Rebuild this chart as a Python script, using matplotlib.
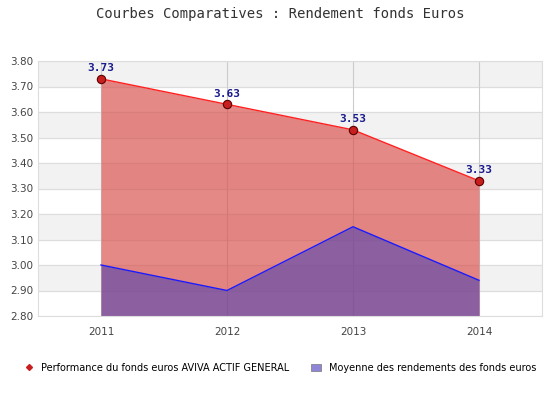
import matplotlib
matplotlib.use("Agg")
import matplotlib.pyplot as plt
from matplotlib.lines import Line2D
from matplotlib.patches import Patch

years = [2011, 2012, 2013, 2014]
fonds_aviva = [3.73, 3.63, 3.53, 3.33]
moyenne = [3.00, 2.90, 3.15, 2.94]
y_ticks = [2.80, 2.90, 3.00, 3.10, 3.20, 3.30, 3.40, 3.50, 3.60, 3.70, 3.80]


def main():
    fig = plt.figure(figsize=(5.6, 4.2), dpi=100)
    ax = fig.add_axes([38 / 560, 1 - 316 / 420, 504 / 560, 255 / 420])

    ax.set_xlim(2010.5, 2014.5)
    ax.set_ylim(2.80, 3.80)

    # bandes grises alternées
    for i in range(len(y_ticks) - 1):
        if (len(y_ticks) - 2 - i) % 2 == 0:
            ax.axhspan(y_ticks[i], y_ticks[i + 1], color="#f2f2f2", zorder=0)
    for y in y_ticks:
        ax.axhline(y, color="#dddddd", lw=0.8, zorder=0.5)
    for x in years:
        ax.axvline(x, color="#cccccc", lw=0.8, zorder=0.5)

    ax.fill_between(years, 2.80, fonds_aviva, color="#d94f4c", alpha=0.67, lw=0, zorder=1)
    ax.fill_between(years, 2.80, moyenne, color="#5546b0", alpha=0.62, lw=0, zorder=2)
    ax.plot(years, moyenne, color="#1a1aff", lw=1, zorder=3)
    ax.plot(years, fonds_aviva, color="#ff2020", lw=1, zorder=3)
    ax.plot(years, fonds_aviva, ls="none", marker="o", ms=6, mfc="#c81e1e",
            mec="#5a0000", mew=0.8, zorder=4)

    for x, v in zip(years, fonds_aviva):
        ax.annotate(f"{v:.2f}", (x, v), xytext=(0, 4), textcoords="offset points",
                    ha="center", va="bottom", fontsize=8, color="#1a1a8c",
                    fontweight="bold", family="DejaVu Sans Mono", zorder=5)

    ax.set_xticks(years)
    ax.set_xticklabels([str(y) for y in years])
    ax.set_yticks(y_ticks)
    ax.set_yticklabels([f"{y:.2f}" for y in y_ticks])
    ax.tick_params(length=0, labelsize=7.5, colors="#444444")
    ax.tick_params(axis="x", pad=8)
    for s in ax.spines.values():
        s.set_color("#dddddd")

    fig.text(0.5, 1 - 14 / 420, "Courbes Comparatives : Rendement fonds Euros",
             ha="center", va="center", fontsize=10, color="#333333",
             family="DejaVu Sans Mono")

    handles = [
        Line2D([], [], ls="none", marker="D", ms=3, mfc="#c81e1e", mec="#c81e1e"),
        Patch(facecolor="#8f86d8", edgecolor="#777777", lw=0.5),
    ]
    labels = ["Performance du fonds euros AVIVA ACTIF GENERAL",
              "Moyenne des rendements des fonds euros"]
    fig.legend(handles, labels, loc="center", bbox_to_anchor=(0.5, 1 - 368 / 420),
               ncol=2, frameon=False, fontsize=7, handlelength=1, handleheight=0.8,
               columnspacing=2.2, handletextpad=0.8)

    fig.savefig("out.png", dpi=100, facecolor="white")


if __name__ == "__main__":
    main()
